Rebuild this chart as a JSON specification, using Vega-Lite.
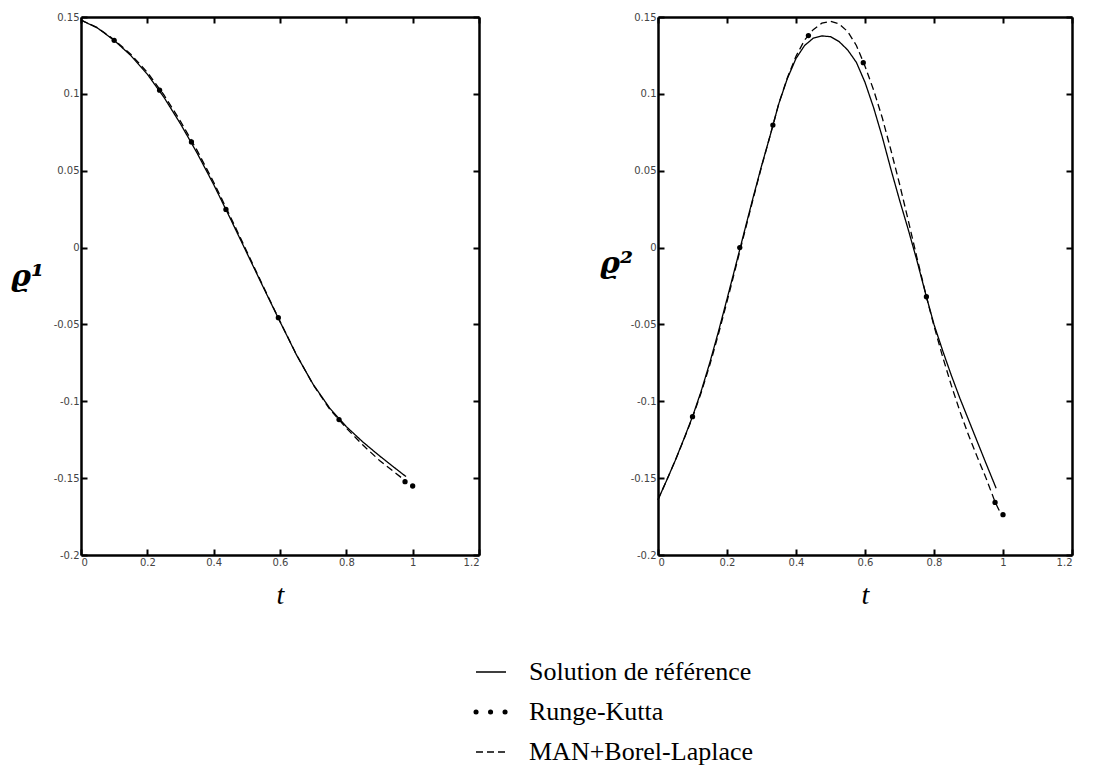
{
  "$schema": "https://vega.github.io/schema/vega-lite/v6.json",
  "background": "white",
  "padding": {"left": 10, "top": 12, "right": 5, "bottom": 5},
  "config": {
    "view": {"stroke": null},
    "axis": {
      "domainColor": "black", "domainWidth": 2.5,
      "tickColor": "black", "tickWidth": 2, "tickSize": -6,
      "labelFont": "DejaVu Sans", "labelFontSize": 10, "labelColor": "#444",
      "labelPadding": 8, "grid": false
    }
  },
  "datasets": {
    "rho1_lines": [
      {"t": 0, "v": 0.148, "s": "Solution de référence"},
      {"t": 0.05, "v": 0.1428, "s": "Solution de référence"},
      {"t": 0.1, "v": 0.1348, "s": "Solution de référence"},
      {"t": 0.15, "v": 0.125, "s": "Solution de référence"},
      {"t": 0.2, "v": 0.1128, "s": "Solution de référence"},
      {"t": 0.25, "v": 0.0978, "s": "Solution de référence"},
      {"t": 0.3, "v": 0.0805, "s": "Solution de référence"},
      {"t": 0.35, "v": 0.0615, "s": "Solution de référence"},
      {"t": 0.4, "v": 0.041, "s": "Solution de référence"},
      {"t": 0.45, "v": 0.019, "s": "Solution de référence"},
      {"t": 0.5, "v": -0.0035, "s": "Solution de référence"},
      {"t": 0.55, "v": -0.026, "s": "Solution de référence"},
      {"t": 0.6, "v": -0.0482, "s": "Solution de référence"},
      {"t": 0.65, "v": -0.07, "s": "Solution de référence"},
      {"t": 0.7, "v": -0.089, "s": "Solution de référence"},
      {"t": 0.75, "v": -0.1045, "s": "Solution de référence"},
      {"t": 0.8, "v": -0.1165, "s": "Solution de référence"},
      {"t": 0.85, "v": -0.1265, "s": "Solution de référence"},
      {"t": 0.9, "v": -0.1355, "s": "Solution de référence"},
      {"t": 0.95, "v": -0.144, "s": "Solution de référence"},
      {"t": 0.98, "v": -0.149, "s": "Solution de référence"},
      {"t": 0, "v": 0.148, "s": "MAN+Borel-Laplace"},
      {"t": 0.05, "v": 0.143, "s": "MAN+Borel-Laplace"},
      {"t": 0.1, "v": 0.1352, "s": "MAN+Borel-Laplace"},
      {"t": 0.15, "v": 0.1258, "s": "MAN+Borel-Laplace"},
      {"t": 0.2, "v": 0.114, "s": "MAN+Borel-Laplace"},
      {"t": 0.25, "v": 0.0993, "s": "MAN+Borel-Laplace"},
      {"t": 0.3, "v": 0.0822, "s": "MAN+Borel-Laplace"},
      {"t": 0.35, "v": 0.0632, "s": "MAN+Borel-Laplace"},
      {"t": 0.4, "v": 0.0425, "s": "MAN+Borel-Laplace"},
      {"t": 0.45, "v": 0.0203, "s": "MAN+Borel-Laplace"},
      {"t": 0.5, "v": -0.0025, "s": "MAN+Borel-Laplace"},
      {"t": 0.55, "v": -0.0255, "s": "MAN+Borel-Laplace"},
      {"t": 0.6, "v": -0.048, "s": "MAN+Borel-Laplace"},
      {"t": 0.65, "v": -0.0698, "s": "MAN+Borel-Laplace"},
      {"t": 0.7, "v": -0.0892, "s": "MAN+Borel-Laplace"},
      {"t": 0.75, "v": -0.1052, "s": "MAN+Borel-Laplace"},
      {"t": 0.8, "v": -0.1175, "s": "MAN+Borel-Laplace"},
      {"t": 0.85, "v": -0.1285, "s": "MAN+Borel-Laplace"},
      {"t": 0.9, "v": -0.1385, "s": "MAN+Borel-Laplace"},
      {"t": 0.95, "v": -0.147, "s": "MAN+Borel-Laplace"},
      {"t": 0.98, "v": -0.152, "s": "MAN+Borel-Laplace"}
    ],
    "rho1_rk": [
      {"t": 0.1, "v": 0.1348},
      {"t": 0.237, "v": 0.1024},
      {"t": 0.333, "v": 0.0687},
      {"t": 0.437, "v": 0.0248},
      {"t": 0.595, "v": -0.0456},
      {"t": 0.778, "v": -0.1119},
      {"t": 0.977, "v": -0.1523},
      {"t": 1.0, "v": -0.1551}
    ],
    "rho2_lines": [
      {"t": 0, "v": -0.164, "s": "Solution de référence"},
      {"t": 0.025, "v": -0.1515, "s": "Solution de référence"},
      {"t": 0.05, "v": -0.1385, "s": "Solution de référence"},
      {"t": 0.075, "v": -0.1245, "s": "Solution de référence"},
      {"t": 0.1, "v": -0.11, "s": "Solution de référence"},
      {"t": 0.125, "v": -0.0935, "s": "Solution de référence"},
      {"t": 0.15, "v": -0.075, "s": "Solution de référence"},
      {"t": 0.175, "v": -0.0548, "s": "Solution de référence"},
      {"t": 0.2, "v": -0.0335, "s": "Solution de référence"},
      {"t": 0.225, "v": -0.0118, "s": "Solution de référence"},
      {"t": 0.25, "v": 0.0102, "s": "Solution de référence"},
      {"t": 0.275, "v": 0.032, "s": "Solution de référence"},
      {"t": 0.3, "v": 0.053, "s": "Solution de référence"},
      {"t": 0.325, "v": 0.0728, "s": "Solution de référence"},
      {"t": 0.35, "v": 0.0935, "s": "Solution de référence"},
      {"t": 0.375, "v": 0.11, "s": "Solution de référence"},
      {"t": 0.4, "v": 0.123, "s": "Solution de référence"},
      {"t": 0.425, "v": 0.1315, "s": "Solution de référence"},
      {"t": 0.45, "v": 0.1362, "s": "Solution de référence"},
      {"t": 0.475, "v": 0.1377, "s": "Solution de référence"},
      {"t": 0.5, "v": 0.1372, "s": "Solution de référence"},
      {"t": 0.525, "v": 0.134, "s": "Solution de référence"},
      {"t": 0.55, "v": 0.1285, "s": "Solution de référence"},
      {"t": 0.575, "v": 0.1205, "s": "Solution de référence"},
      {"t": 0.6, "v": 0.1075, "s": "Solution de référence"},
      {"t": 0.625, "v": 0.091, "s": "Solution de référence"},
      {"t": 0.65, "v": 0.072, "s": "Solution de référence"},
      {"t": 0.675, "v": 0.051, "s": "Solution de référence"},
      {"t": 0.7, "v": 0.031, "s": "Solution de référence"},
      {"t": 0.725, "v": 0.012, "s": "Solution de référence"},
      {"t": 0.75, "v": -0.008, "s": "Solution de référence"},
      {"t": 0.778, "v": -0.032, "s": "Solution de référence"},
      {"t": 0.8, "v": -0.05, "s": "Solution de référence"},
      {"t": 0.825, "v": -0.067, "s": "Solution de référence"},
      {"t": 0.85, "v": -0.083, "s": "Solution de référence"},
      {"t": 0.875, "v": -0.098, "s": "Solution de référence"},
      {"t": 0.9, "v": -0.112, "s": "Solution de référence"},
      {"t": 0.925, "v": -0.126, "s": "Solution de référence"},
      {"t": 0.95, "v": -0.14, "s": "Solution de référence"},
      {"t": 0.98, "v": -0.1565, "s": "Solution de référence"},
      {"t": 0, "v": -0.164, "s": "MAN+Borel-Laplace"},
      {"t": 0.025, "v": -0.1515, "s": "MAN+Borel-Laplace"},
      {"t": 0.05, "v": -0.1385, "s": "MAN+Borel-Laplace"},
      {"t": 0.075, "v": -0.1248, "s": "MAN+Borel-Laplace"},
      {"t": 0.1, "v": -0.1105, "s": "MAN+Borel-Laplace"},
      {"t": 0.125, "v": -0.0945, "s": "MAN+Borel-Laplace"},
      {"t": 0.15, "v": -0.0765, "s": "MAN+Borel-Laplace"},
      {"t": 0.175, "v": -0.0565, "s": "MAN+Borel-Laplace"},
      {"t": 0.2, "v": -0.0352, "s": "MAN+Borel-Laplace"},
      {"t": 0.225, "v": -0.0132, "s": "MAN+Borel-Laplace"},
      {"t": 0.25, "v": 0.009, "s": "MAN+Borel-Laplace"},
      {"t": 0.275, "v": 0.031, "s": "MAN+Borel-Laplace"},
      {"t": 0.3, "v": 0.0525, "s": "MAN+Borel-Laplace"},
      {"t": 0.325, "v": 0.0728, "s": "MAN+Borel-Laplace"},
      {"t": 0.35, "v": 0.0935, "s": "MAN+Borel-Laplace"},
      {"t": 0.375, "v": 0.1105, "s": "MAN+Borel-Laplace"},
      {"t": 0.4, "v": 0.1245, "s": "MAN+Borel-Laplace"},
      {"t": 0.425, "v": 0.135, "s": "MAN+Borel-Laplace"},
      {"t": 0.45, "v": 0.1418, "s": "MAN+Borel-Laplace"},
      {"t": 0.475, "v": 0.146, "s": "MAN+Borel-Laplace"},
      {"t": 0.5, "v": 0.1472, "s": "MAN+Borel-Laplace"},
      {"t": 0.525, "v": 0.1455, "s": "MAN+Borel-Laplace"},
      {"t": 0.55, "v": 0.1405, "s": "MAN+Borel-Laplace"},
      {"t": 0.575, "v": 0.1315, "s": "MAN+Borel-Laplace"},
      {"t": 0.6, "v": 0.118, "s": "MAN+Borel-Laplace"},
      {"t": 0.625, "v": 0.1025, "s": "MAN+Borel-Laplace"},
      {"t": 0.65, "v": 0.0845, "s": "MAN+Borel-Laplace"},
      {"t": 0.675, "v": 0.0635, "s": "MAN+Borel-Laplace"},
      {"t": 0.7, "v": 0.0415, "s": "MAN+Borel-Laplace"},
      {"t": 0.725, "v": 0.018, "s": "MAN+Borel-Laplace"},
      {"t": 0.75, "v": -0.006, "s": "MAN+Borel-Laplace"},
      {"t": 0.778, "v": -0.032, "s": "MAN+Borel-Laplace"},
      {"t": 0.8, "v": -0.051, "s": "MAN+Borel-Laplace"},
      {"t": 0.825, "v": -0.071, "s": "MAN+Borel-Laplace"},
      {"t": 0.85, "v": -0.0895, "s": "MAN+Borel-Laplace"},
      {"t": 0.875, "v": -0.1065, "s": "MAN+Borel-Laplace"},
      {"t": 0.9, "v": -0.122, "s": "MAN+Borel-Laplace"},
      {"t": 0.925, "v": -0.136, "s": "MAN+Borel-Laplace"},
      {"t": 0.95, "v": -0.1495, "s": "MAN+Borel-Laplace"},
      {"t": 0.977, "v": -0.1655, "s": "MAN+Borel-Laplace"},
      {"t": 0.99, "v": -0.1715, "s": "MAN+Borel-Laplace"}
    ],
    "rho2_rk": [
      {"t": 0.1, "v": -0.11},
      {"t": 0.237, "v": 0.0},
      {"t": 0.333, "v": 0.0797},
      {"t": 0.436, "v": 0.1379},
      {"t": 0.595, "v": 0.1203},
      {"t": 0.778, "v": -0.032},
      {"t": 0.977, "v": -0.1658},
      {"t": 1.0, "v": -0.1738}
    ]
  },
  "spacing": 179,
  "bounds": "flush",
  "resolve": {"scale": {"strokeDash": "independent"}, "legend": {"strokeDash": "independent"}},
  "hconcat": [
    {
      "width": 398,
      "height": 538,
      "resolve": {"axis": {"x": "independent", "y": "independent"}},
      "layer": [
        {
          "data": {"name": "rho1_lines"},
          "mark": {"type": "line", "color": "black", "strokeWidth": 1.3},
          "encoding": {
            "x": {"field": "t", "type": "quantitative",
              "scale": {"domain": [0, 1.2], "nice": false, "zero": false},
              "axis": {"orient": "bottom", "values": [0, 0.2, 0.4, 0.6, 0.8, 1, 1.2], "labelExpr": "'' + datum.value",
                "title": "t", "titleFont": "Liberation Serif", "titleFontStyle": "italic", "titleFontWeight": "normal",
                "titleFontSize": 28, "titleColor": "black", "titleY": 48, "titleBaseline": "alphabetic"}},
            "y": {"field": "v", "type": "quantitative",
              "scale": {"domain": [-0.2, 0.15], "nice": false, "zero": false},
              "axis": {"orient": "left", "values": [-0.2, -0.15, -0.1, -0.05, 0, 0.05, 0.1, 0.15], "labelExpr": "'' + datum.value",
                "title": "ϱ¹", "titleAngle": 0, "titleX": -54, "titleY": 268, "titleAlign": "center", "titleBaseline": "alphabetic",
                "titleFont": "DejaVu Serif", "titleFontStyle": "italic", "titleFontSize": 30, "titleFontWeight": "bold", "titleColor": "black"}},
            "strokeDash": {"field": "s", "type": "nominal",
              "scale": {"domain": ["Solution de référence", "Runge-Kutta", "MAN+Borel-Laplace"], "range": [[1, 0], [0.1, 14.4], [7, 4]]},
              "legend": {"orient": "none", "legendX": 397, "legendY": 642, "title": null, "padding": 0,
                "symbolType": "stroke", "symbolSize": 900, "symbolStrokeWidth": 1.3, "symbolStrokeColor": "black",
                "labelFont": "Liberation Serif", "labelFontSize": 26, "labelColor": "black", "labelOffset": 25,
                "labelLimit": 400, "rowPadding": 14,
                "encode": {"symbols": {"update": {
                  "strokeWidth": {"signal": "datum.value === 'Runge-Kutta' ? 5 : 1.3"},
                  "strokeCap": {"signal": "datum.value === 'Runge-Kutta' ? 'round' : 'butt'"}
                }}}}
            }
          }
        },
        {
          "data": {"name": "rho1_rk"},
          "mark": {"type": "point", "filled": true, "color": "black", "size": 28, "opacity": 1},
          "encoding": {
            "x": {"field": "t", "type": "quantitative",
              "axis": {"orient": "top", "labels": false, "title": null, "values": [0, 0.2, 0.4, 0.6, 0.8, 1, 1.2]}},
            "y": {"field": "v", "type": "quantitative",
              "axis": {"orient": "right", "labels": false, "title": null, "values": [-0.2, -0.15, -0.1, -0.05, 0, 0.05, 0.1, 0.15]}}
          }
        }
      ]
    },
    {
      "width": 414,
      "height": 538,
      "resolve": {"axis": {"x": "independent", "y": "independent"}},
      "layer": [
        {
          "data": {"name": "rho2_lines"},
          "mark": {"type": "line", "color": "black", "strokeWidth": 1.3},
          "encoding": {
            "x": {"field": "t", "type": "quantitative",
              "scale": {"domain": [0, 1.2], "nice": false, "zero": false},
              "axis": {"orient": "bottom", "values": [0, 0.2, 0.4, 0.6, 0.8, 1, 1.2], "labelExpr": "'' + datum.value",
                "title": "t", "titleFont": "Liberation Serif", "titleFontStyle": "italic", "titleFontWeight": "normal",
                "titleFontSize": 28, "titleColor": "black", "titleY": 48, "titleBaseline": "alphabetic"}},
            "y": {"field": "v", "type": "quantitative",
              "scale": {"domain": [-0.2, 0.15], "nice": false, "zero": false},
              "axis": {"orient": "left", "values": [-0.2, -0.15, -0.1, -0.05, 0, 0.05, 0.1, 0.15], "labelExpr": "'' + datum.value",
                "title": "ϱ²", "titleAngle": 0, "titleX": -42, "titleY": 255, "titleAlign": "center", "titleBaseline": "alphabetic",
                "titleFont": "DejaVu Serif", "titleFontStyle": "italic", "titleFontSize": 30, "titleFontWeight": "bold", "titleColor": "black"}},
            "strokeDash": {"field": "s", "type": "nominal",
              "scale": {"domain": ["Solution de référence", "Runge-Kutta", "MAN+Borel-Laplace"], "range": [[1, 0], [0.1, 14.4], [7, 4]]},
              "legend": null}
          }
        },
        {
          "data": {"name": "rho2_rk"},
          "mark": {"type": "point", "filled": true, "color": "black", "size": 28, "opacity": 1},
          "encoding": {
            "x": {"field": "t", "type": "quantitative",
              "axis": {"orient": "top", "labels": false, "title": null, "values": [0, 0.2, 0.4, 0.6, 0.8, 1, 1.2]}},
            "y": {"field": "v", "type": "quantitative",
              "axis": {"orient": "right", "labels": false, "title": null, "values": [-0.2, -0.15, -0.1, -0.05, 0, 0.05, 0.1, 0.15]}}
          }
        }
      ]
    }
  ]
}
